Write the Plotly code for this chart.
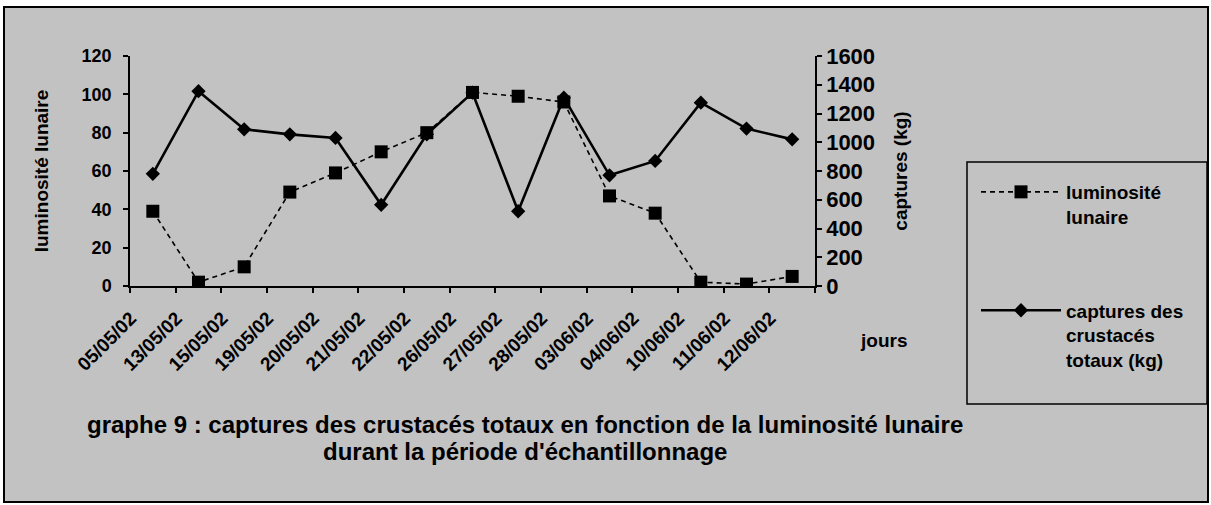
import plotly.graph_objects as go

# ---- data ----
dates = ["05/05/02", "13/05/02", "15/05/02", "19/05/02", "20/05/02", "21/05/02",
         "22/05/02", "26/05/02", "27/05/02", "28/05/02", "03/06/02", "04/06/02",
         "10/06/02", "11/06/02", "12/06/02"]
luminosite = [39, 2, 10, 49, 59, 70, 80, 101, 99, 96, 47, 38, 2, 1, 5]
captures = [780, 1355, 1090, 1055, 1030, 565, 1055, 1345, 520, 1310, 770, 870, 1275, 1095, 1020]
lum_ticks = [0, 20, 40, 60, 80, 100, 120]
cap_ticks = [0, 200, 400, 600, 800, 1000, 1200, 1400, 1600]

name_lum = "luminosité<br>lunaire"
name_cap = "captures des<br>crustacés<br>totaux (kg)"
title1 = "graphe 9 : captures des crustacés totaux en fonction de la luminosité lunaire"
title2 = "durant la période d'échantillonnage"

# ---- geometry (pixels) ----
W, H = 1211, 505
L, R, T, B = 130, 815, 56, 286


def px(x):
    return (x - L) / (R - L)


def py(y):
    return (B - y) / (B - T)


FONT = "Arial, Liberation Sans, sans-serif"
BG = "#c2c2c2"

fig = go.Figure()
fig.add_trace(go.Scatter(
    x=dates, y=luminosite, name=name_lum, legendgroup="a",
    mode="lines+markers",
    line=dict(color="black", width=1.6, dash="5px,4px"),
    marker=dict(symbol="square", size=13, color="black"),
    xaxis="x", yaxis="y"))
fig.add_trace(go.Scatter(
    x=dates, y=captures, name=name_cap, legendgroup="b",
    mode="lines+markers",
    line=dict(color="black", width=2.6),
    marker=dict(symbol="diamond", size=11, color="black"),
    xaxis="x", yaxis="y2"))

tickfont = dict(family=FONT, size=19, color="black", weight="bold")

fig.update_layout(
    width=W, height=H,
    margin=dict(l=L, r=W - R, t=T, b=H - B, autoexpand=False),
    paper_bgcolor="white",
    plot_bgcolor="rgba(0,0,0,0)",
    font=dict(family=FONT, color="black", weight="bold"),
    showlegend=True,
    legend=dict(x=px(976), y=py(173), xanchor="left", yanchor="top",
                bgcolor="rgba(0,0,0,0)", borderwidth=0,
                font=dict(family=FONT, size=19, color="black", weight="bold"),
                valign="top", tracegroupgap=66, itemwidth=80,
                traceorder="grouped"),
    xaxis=dict(type="category", range=[-0.5, len(dates) - 0.5],
               tickson="boundaries", ticks="outside", ticklen=5, tickwidth=1.5,
               tickcolor="black", showline=True, linecolor="black", linewidth=1.5,
               tickangle=-45, tickfont=tickfont, showgrid=False, zeroline=False,
               ticklabelstandoff=12, ticklabelshift=-22,
               anchor="y"),
    xaxis2=dict(overlaying="x", anchor="y", range=[-0.5, len(dates) - 0.5],
                tickmode="array",
                tickvals=[i - 0.5 for i in range(len(dates) + 1)],
                ticks="inside", ticklen=5, tickwidth=1.5, tickcolor="black",
                showticklabels=False, showline=False, showgrid=False,
                zeroline=False),
    yaxis=dict(range=[0, 120], tickmode="array", tickvals=lum_ticks,
               ticks="outside", ticklen=5, tickwidth=1.5, tickcolor="black",
               showline=True, linecolor="black", linewidth=1.5,
               tickfont=dict(family=FONT, size=18, color="black", weight="bold"),
               ticklabelstandoff=8,
               showgrid=False, zeroline=False,
               title=dict(text="luminosité lunaire", standoff=28,
                          font=dict(family=FONT, size=19, color="black", weight="bold"))),
    yaxis2=dict(overlaying="y", side="right", anchor="x", range=[0, 1600],
                tickmode="array", tickvals=cap_ticks,
                ticks="outside", ticklen=5, tickwidth=1.5, tickcolor="black",
                showline=True, linecolor="black", linewidth=1.5,
                tickfont=dict(family=FONT, size=22, color="black", weight="bold"),
                showgrid=False, zeroline=False,
                title=dict(text="captures (kg)", standoff=20,
                           font=dict(family=FONT, size=19, color="black", weight="bold"))),
    yaxis3=dict(overlaying="y", side="left", anchor="x", range=[0, 120],
                tickmode="array", tickvals=lum_ticks, ticks="inside", ticklen=5,
                tickwidth=1.5, tickcolor="black", showticklabels=False,
                showline=False, showgrid=False, zeroline=False),
    yaxis4=dict(overlaying="y", side="right", anchor="x", range=[0, 1600],
                tickmode="array", tickvals=cap_ticks, ticks="inside", ticklen=5,
                tickwidth=1.5, tickcolor="black", showticklabels=False,
                showline=False, showgrid=False, zeroline=False),
    shapes=[
        dict(type="rect", xref="paper", yref="paper",
             x0=px(4), x1=px(1208), y0=py(502), y1=py(7),
             fillcolor=BG, line=dict(color="black", width=2), layer="below"),
        dict(type="rect", xref="paper", yref="paper",
             x0=px(967), x1=px(1207), y0=py(404), y1=py(162),
             fillcolor="rgba(0,0,0,0)", line=dict(color="black", width=1.5),
             layer="below"),
    ],
    annotations=[
        dict(text="jours", xref="paper", yref="paper", x=px(883), y=py(340),
             showarrow=False, xanchor="center", yanchor="middle",
             font=dict(family=FONT, size=19, color="black", weight="bold")),
        dict(text=title1, xref="paper", yref="paper", x=px(525), y=py(425),
             showarrow=False, xanchor="center", yanchor="middle",
             font=dict(family=FONT, size=24, color="black", weight="bold")),
        dict(text=title2, xref="paper", yref="paper", x=px(525), y=py(451),
             showarrow=False, xanchor="center", yanchor="middle",
             font=dict(family=FONT, size=24, color="black", weight="bold")),
    ],
)

fig.write_html("out.html",
               config={"displayModeBar": False},
               post_script="document.body.style.margin='0';document.body.style.padding='0';")
